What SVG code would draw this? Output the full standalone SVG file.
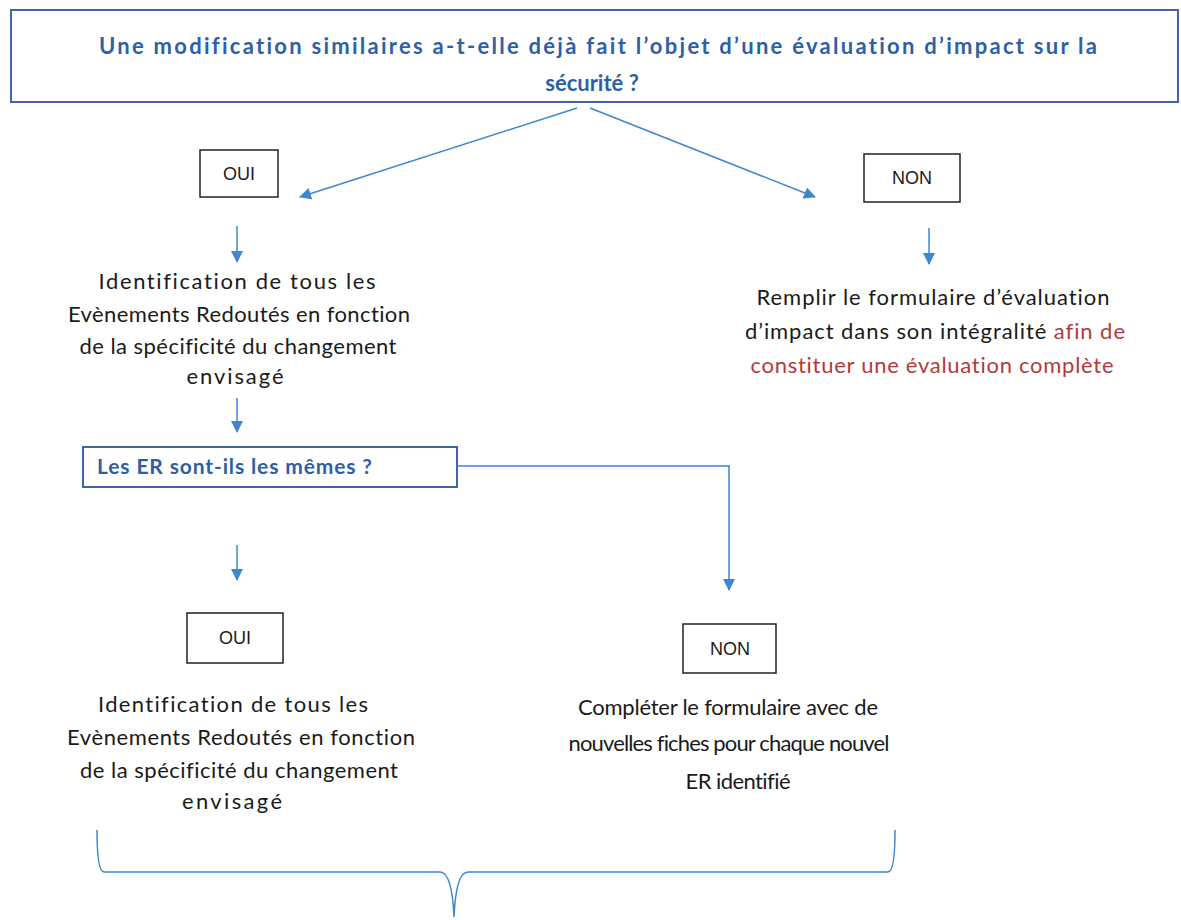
<svg xmlns="http://www.w3.org/2000/svg" width="1181" height="920" viewBox="0 0 1181 920">
<defs>
<marker id="ah" markerWidth="12" markerHeight="12" refX="11" refY="6" orient="auto" markerUnits="userSpaceOnUse">
<path d="M0,0 L12,6 L0,12 Z" fill="#3F86D0"/>
</marker>
<style>
.q{fill:#fff;stroke:#3F62A8;stroke-width:2}
.b{fill:#fff;stroke:#222;stroke-width:1.5}
.qt{font-family:Lato,"Liberation Sans",Arial,sans-serif;font-weight:bold;fill:#2E5FA6;font-size:22px;font-variant-ligatures:none}
.t{font-family:Lato,"Liberation Sans",Arial,sans-serif;fill:#1a1a1a;font-size:22px;text-anchor:middle;font-variant-ligatures:none}
.bt{font-family:"Liberation Sans",Arial,sans-serif;fill:#1a1a1a;font-size:18px;text-anchor:middle}
.r{fill:#B33A3A}
.c{fill:none;stroke:#3F86D0;stroke-width:1.5}
</style>
</defs>
<rect width="1181" height="920" fill="#fff"/>
<g id="q1">
<rect class="q" x="11" y="10" width="1167" height="92"/>
<text class="qt" x="99" y="54" textLength="998" lengthAdjust="spacing">Une modification similaires a-t-elle déjà fait l’objet d’une évaluation d’impact sur la</text>
<text class="qt" x="592" y="91" text-anchor="middle">sécurité ?</text>
</g>
<g id="oui1">
<rect class="b" x="200" y="150" width="78" height="47"/>
<text class="bt" x="239" y="180">OUI</text>
</g>
<g id="non1">
<rect class="b" x="864" y="154" width="96" height="48"/>
<text class="bt" x="912" y="184">NON</text>
</g>
<g id="t1">
<text class="t" x="237" y="289" textLength="277" lengthAdjust="spacing">Identification de tous les</text>
<text class="t" x="239" y="322" textLength="342" lengthAdjust="spacing">Evènements Redoutés en fonction</text>
<text class="t" x="238" y="354" textLength="317" lengthAdjust="spacing">de la spécificité du changement</text>
<text class="t" x="235" y="384" textLength="97" lengthAdjust="spacing">envisagé</text>
</g>
<g id="t2">
<text class="t" x="933" y="305" textLength="353" lengthAdjust="spacing">Remplir le formulaire d’évaluation</text>
<text class="t" x="935" y="339" textLength="380" lengthAdjust="spacing">d’impact dans son intégralité <tspan class="r">afin de</tspan></text>
<text class="t r" x="932" y="373" textLength="363" lengthAdjust="spacing">constituer une évaluation complète</text>
</g>
<g id="q2">
<rect class="q" x="83" y="447" width="374" height="40"/>
<text class="qt" x="97" y="474" style="font-size:21px" textLength="275" lengthAdjust="spacing">Les ER sont-ils les mêmes ?</text>
</g>
<g id="oui2">
<rect class="b" x="187" y="613" width="96" height="50"/>
<text class="bt" x="235" y="644">OUI</text>
</g>
<g id="non2">
<rect class="b" x="683" y="624" width="93" height="49"/>
<text class="bt" x="730" y="655">NON</text>
</g>
<g id="t3">
<text class="t" x="233" y="712" textLength="270" lengthAdjust="spacing">Identification de tous les</text>
<text class="t" x="241" y="745" textLength="348" lengthAdjust="spacing">Evènements Redoutés en fonction</text>
<text class="t" x="239" y="778" textLength="318" lengthAdjust="spacing">de la spécificité du changement</text>
<text class="t" x="232" y="809" textLength="100" lengthAdjust="spacing">envisagé</text>
</g>
<g id="t4">
<text class="t" x="728" y="715" textLength="300" lengthAdjust="spacing">Compléter le formulaire avec de</text>
<text class="t" x="729" y="751" textLength="321" lengthAdjust="spacing">nouvelles fiches pour chaque nouvel</text>
<text class="t" x="738" y="789" textLength="105" lengthAdjust="spacing">ER identifié</text>
</g>
<g id="connectors">
<path class="c" d="M577,108 L300,197" marker-end="url(#ah)"/>
<path class="c" d="M590,108 L815,197" marker-end="url(#ah)"/>
<path class="c" d="M237,226 L237,262" marker-end="url(#ah)"/>
<path class="c" d="M929,228 L929,264" marker-end="url(#ah)"/>
<path class="c" d="M237,398 L237,432" marker-end="url(#ah)"/>
<path class="c" d="M457,466 H729 V590" marker-end="url(#ah)"/>
<path class="c" d="M237,545 L237,580" marker-end="url(#ah)"/>
<path class="c" stroke-width="1.2" d="M97,830 Q97,872 104,872 H440 Q452,872 454,917 Q456,872 468,872 H888 Q895,872 895,830"/>
</g>
</svg>
